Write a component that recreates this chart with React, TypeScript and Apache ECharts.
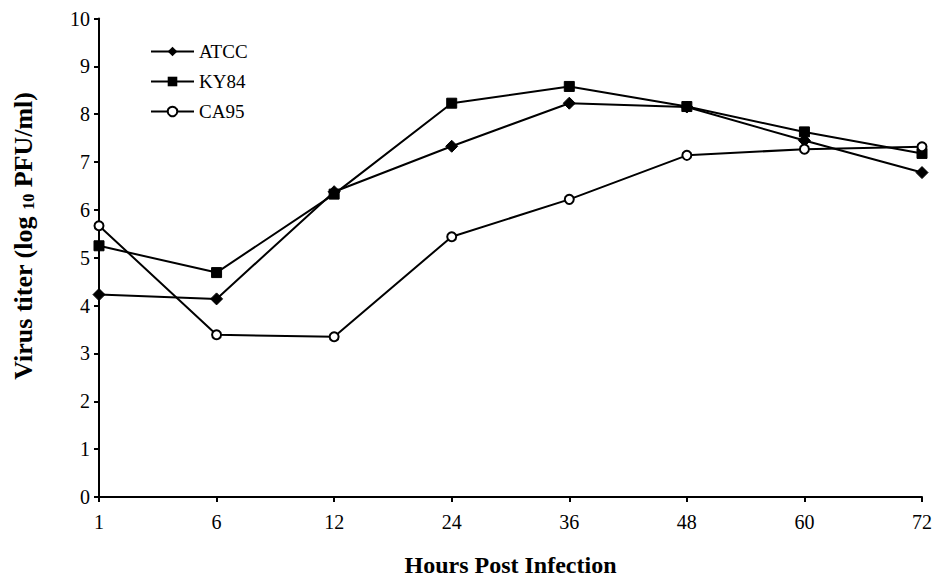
import React, { useEffect, useRef } from "react";
import * as echarts from "echarts";

const hours = ["1", "6", "12", "24", "36", "48", "60", "72"];
const atcc = [4.23, 4.14, 6.38, 7.33, 8.23, 8.15, 7.45, 6.78];
const ky84 = [5.25, 4.69, 6.33, 8.23, 8.58, 8.16, 7.63, 7.18];
const ca95 = [5.67, 3.39, 3.35, 5.44, 6.22, 7.14, 7.27, 7.32];

const FONT = "'Liberation Serif', 'Times New Roman', serif";

export default function App() {
  const ref = useRef<HTMLDivElement>(null);
  useEffect(() => {
    if (!ref.current) return;
    const chart = echarts.init(ref.current, undefined, { renderer: "svg" });
    const base = {
      type: "line",
      lineStyle: { color: "#000", width: 2 },
      itemStyle: { color: "#000", borderColor: "#000" },
      z: 3,
    };
    chart.setOption({
      animation: false,
      backgroundColor: "#fff",
      textStyle: { fontFamily: FONT, color: "#000" },
      grid: { left: 99, right: 13, top: 18.5, bottom: 80, containLabel: false },
      legend: {
        orient: "vertical",
        left: 145,
        top: 37,
        itemWidth: 43,
        itemHeight: 12,
        itemGap: 11,
        textStyle: { fontFamily: FONT, fontSize: 19, color: "#000" },
        data: ["ATCC", "KY84", "CA95"],
      },
      xAxis: {
        type: "category",
        data: hours,
        boundaryGap: false,
        name: "Hours Post Infection",
        nameLocation: "middle",
        nameGap: 56,
        nameTextStyle: { fontFamily: FONT, fontSize: 24, fontWeight: "bold", color: "#000" },
        axisLine: { lineStyle: { color: "#000", width: 2 } },
        axisTick: { alignWithLabel: true, length: 5, lineStyle: { color: "#000", width: 2 } },
        axisLabel: { fontFamily: FONT, fontSize: 20, color: "#000", margin: 15 },
        splitLine: { show: false },
      },
      yAxis: {
        type: "value",
        min: 0,
        max: 10,
        interval: 1,
        axisLine: { show: true, lineStyle: { color: "#000", width: 2 } },
        axisTick: { show: true, length: 5, lineStyle: { color: "#000", width: 2 } },
        axisLabel: { fontFamily: FONT, fontSize: 20, color: "#000", margin: 9 },
        splitLine: { show: false },
      },
      graphic: [
        {
          type: "text",
          x: 22,
          y: 236,
          rotation: Math.PI / 2,
          style: {
            text: "{b|Virus titer (log }{s|10}{b| PFU/ml)}",
            align: "center",
            verticalAlign: "middle",
            rich: {
              b: { fontFamily: FONT, fontSize: 26, fontWeight: "bold", fill: "#000", lineHeight: 28, verticalAlign: "bottom" },
              s: { fontFamily: FONT, fontSize: 16, fontWeight: "bold", fill: "#000", lineHeight: 26, verticalAlign: "bottom" },
            },
          },
        },
      ],
      series: [
        { ...base, name: "ATCC", data: atcc, symbol: "diamond", symbolSize: 12 },
        { ...base, name: "KY84", data: ky84, symbol: "rect", symbolSize: 10 },
        {
          ...base,
          name: "CA95",
          data: ca95,
          symbol: "circle",
          symbolSize: 9,
          itemStyle: { color: "#fff", borderColor: "#000", borderWidth: 2 },
        },
      ],
    });
    return () => chart.dispose();
  }, []);
  return <div ref={ref} style={{ width: 935, height: 582, position: "absolute", left: 0, top: 0 }} />;
}
